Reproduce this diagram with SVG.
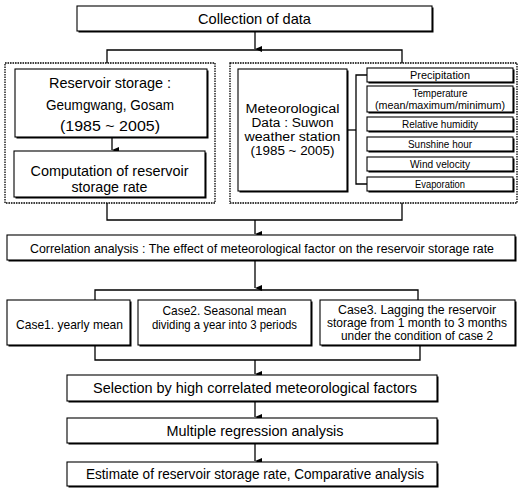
<svg xmlns="http://www.w3.org/2000/svg" width="521" height="493" viewBox="0 0 521 493">
<style>
  .bg{fill:#ffffff}
  .box{fill:#ffffff;stroke:#000;stroke-width:1.1}
  .sh{fill:#000}
  .dot{fill:none;stroke:#000;stroke-width:1.3;stroke-dasharray:1.6 0.9}
  .ln{fill:none;stroke:#000;stroke-width:1.3}
  text{font-family:"Liberation Sans",Arial,sans-serif;fill:#000;text-anchor:middle}
  .t15{font-size:15px}
  .t14{font-size:14px}
  .t13{font-size:13px}
  .tm{font-size:12.5px}
  .t12{font-size:12.5px}
  .t10{font-size:10.5px}
</style>
<defs>
  <marker id="ah" markerWidth="6" markerHeight="7" refX="3" refY="7" orient="auto-start-reverse" markerUnits="userSpaceOnUse" viewBox="0 0 6 7">
    <path d="M0,0 L6,0 L3,7 Z" fill="#000"/>
  </marker>
</defs>
<rect class="bg" x="0" y="0" width="521" height="493"/>

<g id="connectors">
  <path class="ln" d="M255,31 V49" marker-end="url(#ah)"/>
  <path class="ln" d="M107,63 V50 H402 V63"/>
  <path class="ln" d="M112,137 V150" marker-end="url(#ah)"/>
  <path class="ln" d="M347,130 H356"/>
  <path class="ln" d="M367,75 H356 V184 H367"/>
  <path class="ln" d="M107,203 V220 H402 V203"/>
  <path class="ln" d="M255,220 V234" marker-end="url(#ah)"/>
  <path class="ln" d="M255,260 V288" marker-end="url(#ah)"/>
  <path class="ln" d="M95,300 V290 H418 V300"/>
  <path class="ln" d="M95,345 V360 H420 V345"/>
  <path class="ln" d="M255,360 V374" marker-end="url(#ah)"/>
  <path class="ln" d="M255,402 V417" marker-end="url(#ah)"/>
  <path class="ln" d="M255,444 V461" marker-end="url(#ah)"/>
</g>

<g id="collection">
  <rect class="sh" x="78.5" y="7.5" width="355" height="25"/>
  <rect class="box" x="77" y="6" width="355" height="25"/>
  <text class="t15" x="254.5" y="24" textLength="113" lengthAdjust="spacingAndGlyphs">Collection of data</text>
</g>

<g id="reservoir-group">
  <rect class="dot" x="5" y="63" width="210" height="140"/>
</g>
<g id="reservoir">
  <rect class="sh" x="16.5" y="70.5" width="192" height="68"/>
  <rect class="box" x="15" y="69" width="192" height="68"/>
  <text class="t15" x="110" y="88" textLength="122" lengthAdjust="spacingAndGlyphs">Reservoir storage :</text>
  <text class="t15" x="110" y="110" textLength="128" lengthAdjust="spacingAndGlyphs">Geumgwang, Gosam</text>
  <text class="t15" x="110" y="131" textLength="100" lengthAdjust="spacingAndGlyphs">(1985 ~ 2005)</text>
</g>
<g id="computation">
  <rect class="sh" x="15.5" y="152.5" width="191" height="46"/>
  <rect class="box" x="14" y="151" width="191" height="46"/>
  <text class="t15" x="109.5" y="176" textLength="158" lengthAdjust="spacingAndGlyphs">Computation of reservoir</text>
  <text class="t15" x="109.5" y="192" textLength="76" lengthAdjust="spacingAndGlyphs">storage rate</text>
</g>

<g id="meteo-group">
  <rect class="dot" x="230" y="63" width="287" height="140"/>
</g>
<g id="meteo">
  <rect class="sh" x="239.5" y="70.5" width="109" height="122"/>
  <rect class="box" x="238" y="69" width="109" height="122"/>
  <text class="tm" x="292.5" y="113" textLength="94" lengthAdjust="spacingAndGlyphs">Meteorological</text>
  <text class="tm" x="292.5" y="127" textLength="82" lengthAdjust="spacingAndGlyphs">Data : Suwon</text>
  <text class="tm" x="292.5" y="141" textLength="96" lengthAdjust="spacingAndGlyphs">weather station</text>
  <text class="tm" x="292.5" y="155" textLength="84" lengthAdjust="spacingAndGlyphs">(1985 ~ 2005)</text>
</g>

<g id="precipitation">
  <rect class="sh" x="368.5" y="69.5" width="146" height="14"/>
  <rect class="box" x="367" y="68" width="146" height="14"/>
  <text class="t10" x="440" y="79" textLength="60" lengthAdjust="spacingAndGlyphs">Precipitation</text>
</g>
<g id="temperature">
  <rect class="sh" x="368.5" y="87.5" width="146" height="26"/>
  <rect class="box" x="367" y="86" width="146" height="26"/>
  <text class="t10" x="440" y="97" textLength="55" lengthAdjust="spacingAndGlyphs">Temperature</text>
  <text class="t10" x="440" y="109" textLength="130" lengthAdjust="spacingAndGlyphs">(mean/maximum/minimum)</text>
</g>
<g id="humidity">
  <rect class="sh" x="368.5" y="118.5" width="146" height="14"/>
  <rect class="box" x="367" y="117" width="146" height="14"/>
  <text class="t10" x="440" y="128" textLength="76" lengthAdjust="spacingAndGlyphs">Relative humidity</text>
</g>
<g id="sunshine">
  <rect class="sh" x="368.5" y="138.5" width="146" height="14"/>
  <rect class="box" x="367" y="137" width="146" height="14"/>
  <text class="t10" x="440" y="148" textLength="64" lengthAdjust="spacingAndGlyphs">Sunshine hour</text>
</g>
<g id="wind">
  <rect class="sh" x="368.5" y="158.5" width="146" height="14"/>
  <rect class="box" x="367" y="157" width="146" height="14"/>
  <text class="t10" x="440" y="168" textLength="60" lengthAdjust="spacingAndGlyphs">Wind velocity</text>
</g>
<g id="evaporation">
  <rect class="sh" x="368.5" y="178.5" width="146" height="14"/>
  <rect class="box" x="367" y="177" width="146" height="14"/>
  <text class="t10" x="440" y="188" textLength="50" lengthAdjust="spacingAndGlyphs">Evaporation</text>
</g>

<g id="correlation">
  <rect class="sh" x="8.5" y="236.5" width="508" height="25"/>
  <rect class="box" x="7" y="235" width="508" height="25"/>
  <text class="t13" x="262" y="252.5" textLength="464" lengthAdjust="spacingAndGlyphs">Correlation analysis : The effect of meteorological factor on the reservoir storage rate</text>
</g>

<g id="case1">
  <rect class="sh" x="8.5" y="301.5" width="123" height="45"/>
  <rect class="box" x="7" y="300" width="123" height="45"/>
  <text class="t13" x="69.5" y="329" textLength="107" lengthAdjust="spacingAndGlyphs">Case1. yearly mean</text>
</g>
<g id="case2">
  <rect class="sh" x="139.5" y="301.5" width="173" height="45"/>
  <rect class="box" x="138" y="300" width="173" height="45"/>
  <text class="t13" x="224.5" y="314.5" textLength="124" lengthAdjust="spacingAndGlyphs">Case2. Seasonal mean</text>
  <text class="t13" x="224.5" y="328.5" textLength="145" lengthAdjust="spacingAndGlyphs">dividing a year into 3 periods</text>
</g>
<g id="case3">
  <rect class="sh" x="321.5" y="301.5" width="195" height="45"/>
  <rect class="box" x="320" y="300" width="195" height="45"/>
  <text class="t12" x="417" y="314" textLength="158" lengthAdjust="spacingAndGlyphs">Case3. Lagging the reservoir</text>
  <text class="t12" x="417" y="327" textLength="180" lengthAdjust="spacingAndGlyphs">storage from 1 month to 3 months</text>
  <text class="t12" x="417" y="340" textLength="152" lengthAdjust="spacingAndGlyphs">under the condition of case 2</text>
</g>

<g id="selection">
  <rect class="sh" x="68.5" y="376.5" width="370" height="26"/>
  <rect class="box" x="67" y="375" width="370" height="26"/>
  <text class="t14" x="255" y="393" textLength="324" lengthAdjust="spacingAndGlyphs">Selection by high correlated meteorological factors</text>
</g>
<g id="regression">
  <rect class="sh" x="68.5" y="419.5" width="370" height="25"/>
  <rect class="box" x="67" y="418" width="370" height="25"/>
  <text class="t14" x="255" y="435.5" textLength="177" lengthAdjust="spacingAndGlyphs">Multiple regression analysis</text>
</g>
<g id="estimate">
  <rect class="sh" x="68.5" y="463.5" width="370" height="24"/>
  <rect class="box" x="67" y="462" width="370" height="24"/>
  <text class="t14" x="255" y="479" textLength="338" lengthAdjust="spacingAndGlyphs">Estimate of reservoir storage rate, Comparative analysis</text>
</g>
</svg>
